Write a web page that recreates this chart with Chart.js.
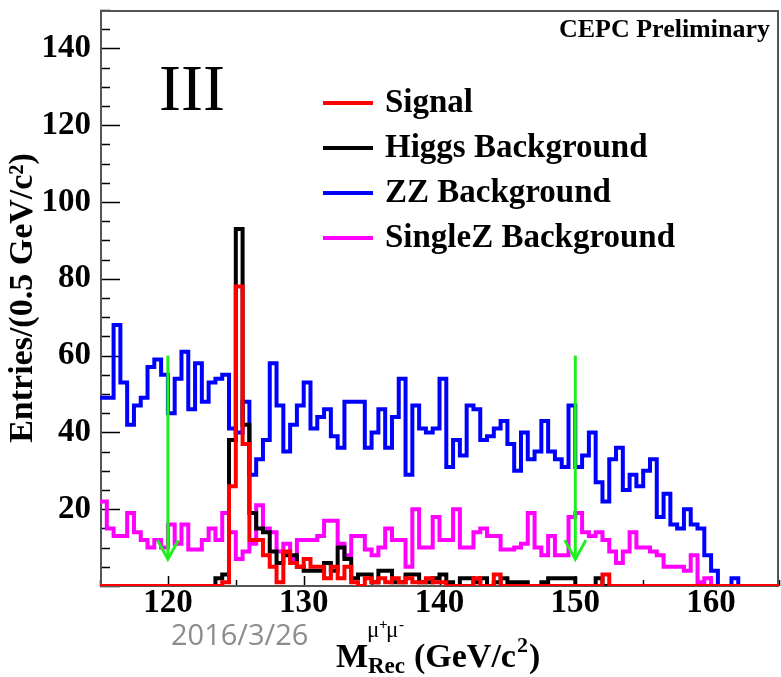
<!DOCTYPE html>
<html>
<head>
<meta charset="utf-8">
<script src="https://cdn.jsdelivr.net/npm/chart.js@4.4.1/dist/chart.umd.min.js"></script>
<style>
  html, body { margin: 0; padding: 0; background: #fff; }
  #wrap { width: 781px; height: 677px; position: relative; }
</style>
</head>
<body>
<div id="wrap"><canvas id="c" width="781" height="677"></canvas></div>
<script>
// Recoil mass histogram, 0.5 GeV bins from 115 to 165 GeV
const binLow = 115;
const binWidth = 0.5;

const signal = [
  0, 0, 0, 0, 0, 0, 0, 0, 0, 0,
  0, 0, 0, 0, 0, 0, 0, 0, 1, 26,
  78, 37, 12, 12, 8, 5, 1, 9, 6, 5,
  7, 5, 5, 2, 5, 2, 5, 1, 0, 2,
  1, 2, 1, 2, 1, 2, 1, 1, 2, 1,
  1, 0, 0, 0, 0, 2, 0, 0, 3, 0,
  0, 0, 0, 0, 0, 0, 0, 0, 0, 0,
  0, 0, 0, 0, 3, 0, 0, 0, 0, 0,
  0, 0, 0, 0, 0, 0, 0, 0, 0, 0,
  0, 0, 0, 0, 0, 0, 0, 0, 0, 0
];

const higgsBkg = [
  0, 0, 0, 0, 0, 0, 0, 0, 0, 0,
  0, 0, 0, 0, 0, 0, 0, 2, 3, 38,
  93, 42, 19, 15, 14, 9, 6, 8, 8, 5,
  4, 4, 4, 6, 4, 10, 7, 2, 3, 3,
  1, 4, 4, 1, 1, 3, 3, 1, 1, 2,
  3, 1, 0, 2, 2, 1, 2, 0, 1, 2,
  1, 1, 1, 0, 0, 1, 2, 2, 2, 2,
  0, 0, 0, 2, 0, 0, 0, 0, 0, 0,
  0, 0, 0, 0, 0, 0, 0, 0, 0, 0,
  0, 0, 0, 0, 0, 0, 0, 0, 0, 0
];

const zzBkg = [
  49, 49, 68, 53, 42, 47, 49, 57, 59, 55,
  45, 54, 61, 46, 58, 48, 53, 54, 55, 41,
  40, 48, 29, 33, 38, 58, 47, 35, 42, 47,
  53, 41, 44, 46, 39, 36, 48, 48, 48, 36,
  40, 46, 36, 44, 54, 29, 47, 41, 40, 41,
  54, 31, 38, 34, 47, 46, 38, 39, 41, 43,
  37, 30, 40, 33, 35, 43, 35, 33, 31, 47,
  31, 34, 40, 27, 22, 33, 36, 25, 29, 26,
  30, 33, 18, 24, 16, 15, 20, 16, 15, 8,
  4, 0, 0, 2, 0, 0, 0, 0, 0, 0
];

const singleZBkg = [
  22, 15, 13, 13, 19, 14, 12, 10, 12, 10,
  16, 11, 16, 9.5, 9.5, 12, 15, 12, 19, 14,
  7, 9, 11, 21, 15, 14, 9, 11, 7, 12,
  12, 12, 13, 17, 17, 11, 8, 13, 13, 9.5,
  8, 10, 15, 12, 12, 5, 20, 10, 10, 18,
  12, 12, 20, 10, 10, 14, 15, 13, 13, 9.5,
  9.5, 10, 11, 19, 10, 8, 13, 8, 8, 18,
  19, 14, 13, 14, 12, 9, 6, 9, 14, 10,
  10, 9, 8, 5, 5, 5, 4, 8, 1, 2,
  0, 0, 0, 0, 0, 0, 0, 0, 0, 0
];

const seriesNames = ['Signal', 'Higgs Background', 'ZZ Background', 'SingleZ Background'];
const seriesColors = ['#ff0000', '#000000', '#0000ff', '#ff00ff'];

const xTickLabels = [120, 130, 140, 150, 160];
const yTickLabels = [20, 40, 60, 80, 100, 120, 140];

// mass window cut positions (GeV) and arrow span in entries
const cutPositions = [120, 150];
const cutArrowTop = 60;
const cutArrowTip = 7;

// histogram step points: left edge of every bin plus the closing upper edge
function histPoints(vals) {
  const pts = vals.map((v, i) => ({ x: binLow + i * binWidth, y: v }));
  pts.push({ x: binLow + vals.length * binWidth, y: vals[vals.length - 1] });
  return pts;
}

const serif = "'Liberation Serif', 'Times New Roman', serif";

function noPad(s) {
  s.paddingTop = 0; s.paddingBottom = 0; s.paddingLeft = 0; s.paddingRight = 0;
}

const decor = {
  id: 'decor',
  beforeDatasetsDraw(chart) {
    const { ctx, chartArea: a, scales: { x, y } } = chart;
    ctx.save();
    // axis tick marks, drawn inward
    ctx.strokeStyle = '#000';
    ctx.lineWidth = 1.5;
    for (let v = 0; v <= 150; v += 5) {
      const py = Math.round(y.getPixelForValue(v)) + 0.5;
      const len = v % 20 === 0 ? 20 : 10;
      ctx.beginPath(); ctx.moveTo(a.left, py); ctx.lineTo(a.left + len, py); ctx.stroke();
    }
    for (let v = 115; v <= 165; v += 5) {
      const px = Math.round(x.getPixelForValue(v)) + 0.5;
      const len = v % 10 === 0 ? 10 : 6;
      ctx.beginPath(); ctx.moveTo(px, a.bottom); ctx.lineTo(px, a.bottom - len); ctx.stroke();
    }
    // frame
    ctx.strokeStyle = '#555';
    ctx.lineWidth = 2;
    ctx.strokeRect(a.left + 1, a.top + 1, a.right - a.left - 2, a.bottom - a.top - 1);
    ctx.restore();
  },
  afterDatasetsDraw(chart) {
    const { ctx, scales: { x, y } } = chart;
    ctx.save();
    // cut arrows
    ctx.strokeStyle = '#1ef01e';
    ctx.lineWidth = 3;
    ctx.lineCap = 'butt';
    cutPositions.forEach(c => {
      const px = x.getPixelForValue(c);
      const top = y.getPixelForValue(cutArrowTop);
      const tip = y.getPixelForValue(cutArrowTip);
      ctx.beginPath(); ctx.moveTo(px, top); ctx.lineTo(px, tip); ctx.stroke();
      ctx.beginPath();
      ctx.moveTo(px - 10.5, tip - 19); ctx.lineTo(px, tip); ctx.lineTo(px + 10.5, tip - 19);
      ctx.stroke();
    });
    ctx.restore();
  },
  afterDraw(chart) {
    const { ctx } = chart;
    ctx.save();
    ctx.textBaseline = 'alphabetic';
    // legend
    chart.data.datasets.forEach((ds, i) => {
      const ly = 103 + i * 45;
      ctx.strokeStyle = ds.borderColor;
      ctx.lineWidth = 4;
      ctx.beginPath(); ctx.moveTo(323, ly); ctx.lineTo(373, ly); ctx.stroke();
      ctx.fillStyle = '#000';
      ctx.font = `bold 33px ${serif}`;
      ctx.fillText(ds.label, 385, ly + 8.5);
    });
    // panel label and header
    ctx.fillStyle = '#000';
    ctx.font = `66px ${serif}`;
    ctx.fillText('III', 159, 110);
    ctx.font = `bold 26px ${serif}`;
    ctx.textAlign = 'right';
    ctx.fillText('CEPC Preliminary', 770, 37);
    ctx.textAlign = 'left';
    // date stamp
    ctx.fillStyle = '#8c8c8c';
    ctx.font = `29px 'Open Sans', 'Noto Sans', sans-serif`;
    ctx.fillText('2016/3/26', 171, 645);
    // x axis title: M with mu+mu- superscript and Rec subscript, then (GeV/c^2)
    ctx.fillStyle = '#000';
    ctx.font = `bold 34px ${serif}`;
    ctx.fillText('M', 336, 667);
    ctx.font = `23px ${serif}`;
    ctx.fillText('\u03bc', 367, 637);
    ctx.fillText('\u03bc', 386, 637);
    ctx.font = `bold 15px ${serif}`;
    ctx.fillText('+', 379, 629);
    ctx.fillText('-', 399, 629);
    ctx.font = `bold 23px ${serif}`;
    ctx.fillText('Rec', 368, 673);
    ctx.font = `bold 34px ${serif}`;
    let tx = 414;
    ctx.fillText('(GeV/c', tx, 667);
    tx += ctx.measureText('(GeV/c').width;
    ctx.font = `bold 22px ${serif}`;
    ctx.fillText('2', tx + 1, 652);
    tx += ctx.measureText('2').width + 2;
    ctx.font = `bold 34px ${serif}`;
    ctx.fillText(')', tx, 667);
    ctx.restore();
  }
};

const datasets = [signal, higgsBkg, zzBkg, singleZBkg].map((vals, i) => ({
  label: seriesNames[i],
  data: histPoints(vals),
  borderColor: seriesColors[i],
  backgroundColor: seriesColors[i],
  borderWidth: 4,
  stepped: 'before',
  fill: false,
  pointRadius: 0,
  tension: 0,
  borderJoinStyle: 'miter',
  borderCapStyle: 'butt'
}));

new Chart(document.getElementById('c'), {
  type: 'line',
  data: { datasets },
  options: {
    responsive: false,
    animation: false,
    devicePixelRatio: 1,
    layout: { padding: { top: 10, right: 2, left: 0, bottom: 0 } },
    plugins: { legend: { display: false }, tooltip: { enabled: false } },
    scales: {
      x: {
        type: 'linear', min: 115, max: 165,
        afterFit(s) { s.height = 91; noPad(s); },
        afterBuildTicks(s) { s.ticks = xTickLabels.map(v => ({ value: v })); },
        grid: { display: false, drawTicks: false },
        border: { display: false },
        ticks: { color: '#000', padding: -2, maxRotation: 0, autoSkip: false,
                 font: { family: serif, weight: 'bold', size: 33 } }
      },
      y: {
        type: 'linear', min: 0, max: 150,
        afterFit(s) { s.width = 100; noPad(s); },
        afterBuildTicks(s) { s.ticks = yTickLabels.map(v => ({ value: v })); },
        grid: { display: false, drawTicks: false },
        border: { display: false },
        ticks: { color: '#000', padding: 9, autoSkip: false,
                 font: { family: serif, weight: 'bold', size: 33 } },
        title: { display: true, text: 'Entries/(0.5 GeV/c\u00b2)', color: '#000',
                 padding: { top: 3, bottom: 0 },
                 font: { family: serif, weight: 'bold', size: 34 } }
      }
    }
  },
  plugins: [decor]
});
</script>
</body>
</html>
